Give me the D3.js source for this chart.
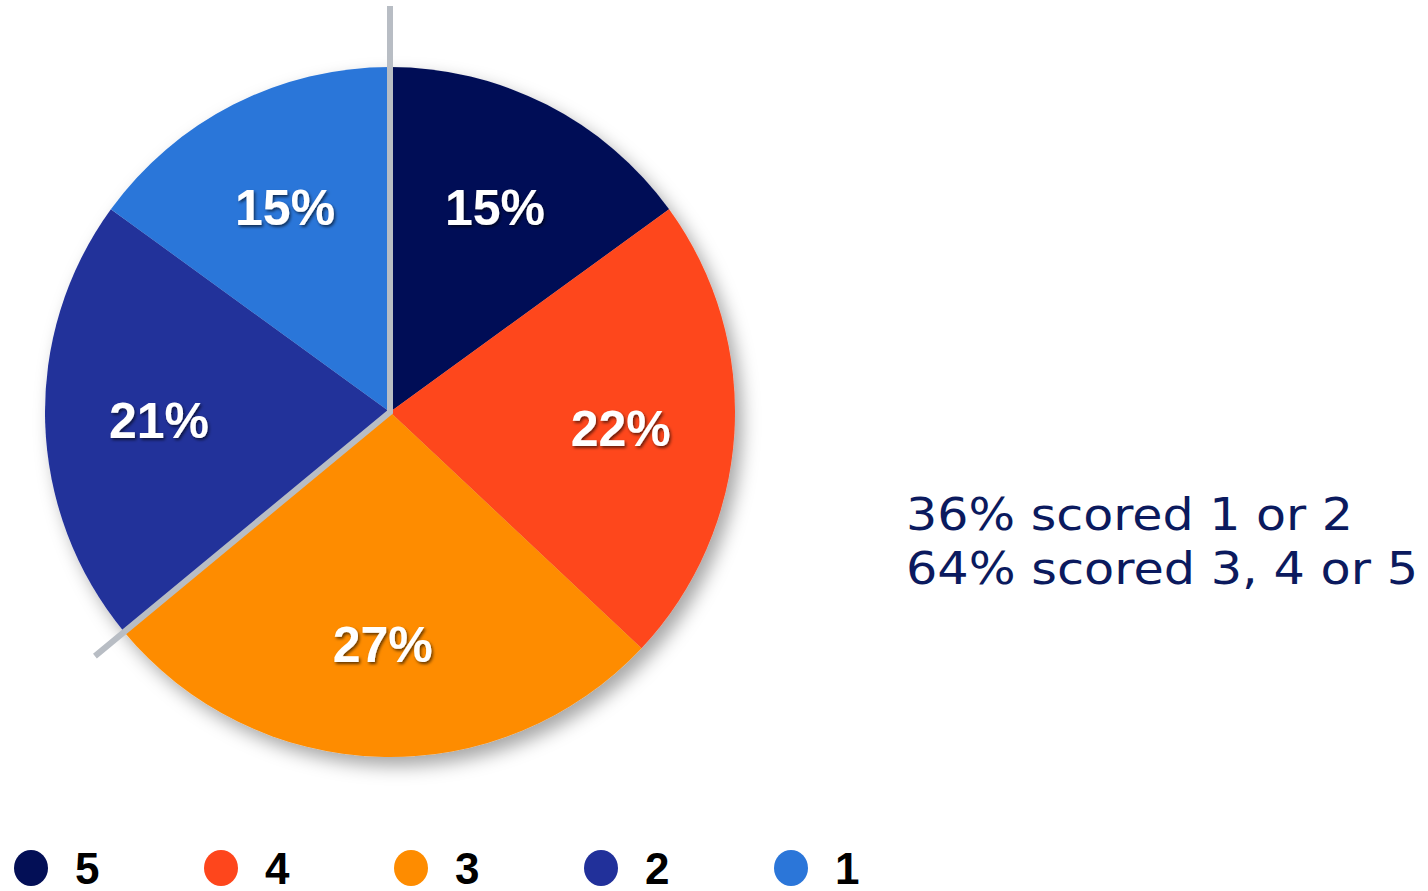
<!DOCTYPE html>
<html><head><meta charset="utf-8">
<script src="https://cdn.jsdelivr.net/npm/d3@7"></script>
<style>html,body{margin:0;padding:0;background:#fff;}svg{display:block;}</style>
</head><body>
<svg id="chart" width="1428" height="891"></svg>
<script>
const categories = ["5", "4", "3", "2", "1"];
const values = [15, 22, 27, 21, 15];
const colors = ["#030f56", "#fe461c", "#fe8c00", "#21309a", "#2b76d9"];
const notes = ["36% scored 1 or 2", "64% scored 3, 4 or 5"];

const svg = d3.select("#chart");
const cx = 390, cy = 412, R = 345;

const defs = svg.append("defs");
const f = defs.append("filter").attr("id","shadow").attr("x","-20%").attr("y","-20%").attr("width","140%").attr("height","140%");
f.append("feDropShadow").attr("dx",7).attr("dy",9).attr("stdDeviation",9).attr("flood-color","#000").attr("flood-opacity",0.35);
const tf = defs.append("filter").attr("id","tshadow").attr("x","-20%").attr("y","-20%").attr("width","140%").attr("height","140%");
tf.append("feDropShadow").attr("dx",1.5).attr("dy",2).attr("stdDeviation",1.5).attr("flood-color","#000").attr("flood-opacity",0.6);

const pie = d3.pie().value(d => d).sort(null);
const arcs = pie(values);
const arc = d3.arc().innerRadius(0).outerRadius(R);
const labelArc = d3.arc().innerRadius(R*0.67).outerRadius(R*0.67);

const g = svg.append("g").attr("transform", `translate(${cx},${cy})`);
const slices = g.append("g").attr("filter","url(#shadow)");
slices.selectAll("path").data(arcs).join("path")
  .attr("d", arc).attr("fill", (d,i) => colors[i]);

// separator line between {1,2} and {3,4,5}
const total = d3.sum(values);
const splitAngle = 2*Math.PI * d3.sum(values.slice(0,3)) / total;
const topLen = R*1.177, diagLen = R*1.11;
const p1 = [0, -topLen];
const p2 = [Math.sin(splitAngle)*diagLen, -Math.cos(splitAngle)*diagLen];
g.append("path")
  .attr("d", `M${p1[0]},${p1[1]}L0,0L${p2[0]},${p2[1]}`)
  .attr("fill","none").attr("stroke","#b8bdc4").attr("stroke-width",6)
  .attr("stroke-linejoin","miter").attr("stroke-linecap","butt");

g.append("g").selectAll("text").data(arcs).join("text")
  .attr("transform", d => { const c = labelArc.centroid(d); return `translate(${c[0]},${c[1]+2})`; })
  .attr("text-anchor","middle").attr("dominant-baseline","central")
  .attr("font-family","Liberation Sans, Arial, sans-serif").attr("font-weight","bold")
  .attr("font-size",50).attr("fill","#fff").attr("filter","url(#tshadow)")
  .text(d => d.data + "%");

// legend
const lx = d3.scalePoint().domain(categories).range([31, 791]);
const leg = svg.append("g").selectAll("g").data(categories).join("g")
  .attr("transform", d => `translate(${lx(d)},868)`);
leg.append("ellipse").attr("rx",17).attr("ry",18).attr("fill",(d,i)=>colors[i]);
leg.append("text").attr("x",44).attr("y",16)
  .attr("font-family","Liberation Sans, Arial, sans-serif").attr("font-weight","bold")
  .attr("font-size",44).attr("fill","#000")
  .text(d => d);

// notes
const noteWidths = [447, 512];
svg.append("g").selectAll("text").data(notes).join("text")
  .attr("x",906).attr("y",(d,i)=>530 + i*54)
  .attr("font-family","DejaVu Sans, Verdana, sans-serif")
  .attr("font-size",45).attr("fill","#0b1a5e")
  .attr("textLength",(d,i)=>noteWidths[i]).attr("lengthAdjust","spacingAndGlyphs")
  .text(d => d);
</script>
</body></html>
